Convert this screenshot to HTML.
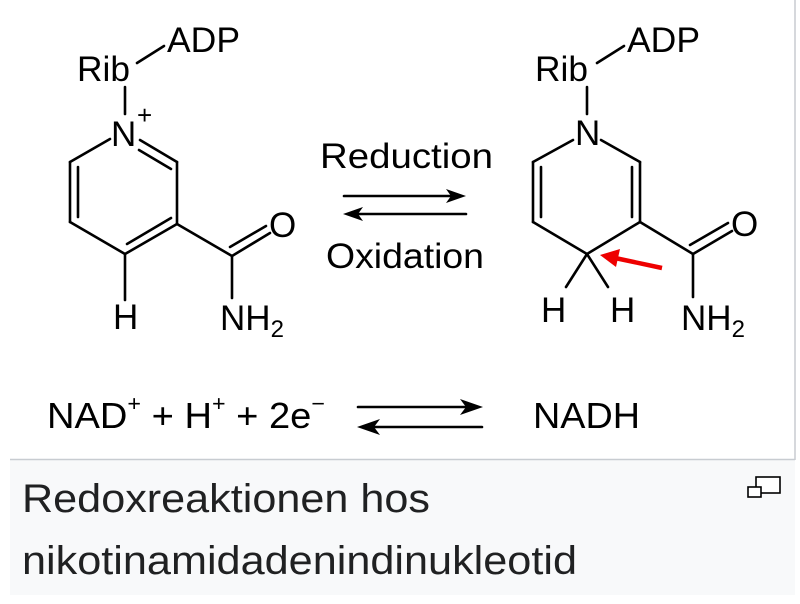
<!DOCTYPE html>
<html><head><meta charset="utf-8"><style>
html,body{margin:0;padding:0;background:#fff;width:800px;height:604px;overflow:hidden}
svg{display:block}
text{font-family:"Liberation Sans",sans-serif;fill:#000}
</style></head><body>
<svg width="800" height="604" viewBox="0 0 800 604" xmlns="http://www.w3.org/2000/svg">
<rect x="0" y="0" width="800" height="604" fill="#fff"/>
<rect x="10" y="459" width="785" height="136" fill="#f8f9fa"/>
<line x1="10" y1="459.5" x2="795" y2="459.5" stroke="#c8ccd1" stroke-width="1.5"/>
<line x1="795" y1="0" x2="795" y2="460" stroke="#c8ccd1" stroke-width="1.5"/>
<g stroke="#000" stroke-width="2.6" fill="none" stroke-linecap="round">
<line x1="137" y1="63" x2="164" y2="46"/>
<line x1="125" y1="87" x2="125" y2="114"/>
<line x1="110" y1="139" x2="70" y2="162"/>
<line x1="70" y1="162" x2="70" y2="222"/>
<line x1="78" y1="167" x2="78" y2="217"/>
<line x1="70" y1="222" x2="125" y2="254"/>
<line x1="125" y1="254" x2="177" y2="224"/>
<line x1="127" y1="244" x2="171" y2="218"/>
<line x1="177" y1="224" x2="177" y2="162"/>
<line x1="177" y1="162" x2="140" y2="140"/>
<line x1="171" y1="169" x2="139" y2="150"/>
<line x1="125" y1="254" x2="125" y2="300"/>
<line x1="177" y1="224" x2="232" y2="256"/>
<line x1="232" y1="256" x2="270" y2="233"/>
<line x1="230" y1="247" x2="266" y2="226"/>
<line x1="232" y1="256" x2="232" y2="298"/>
<line x1="597" y1="63" x2="624" y2="46"/>
<line x1="587" y1="87" x2="587" y2="114"/>
<line x1="573" y1="140" x2="533" y2="162"/>
<line x1="533" y1="162" x2="533" y2="222"/>
<line x1="541" y1="167" x2="541" y2="217"/>
<line x1="533" y1="222" x2="587" y2="254"/>
<line x1="587" y1="254" x2="640" y2="222"/>
<line x1="640" y1="222" x2="640" y2="162"/>
<line x1="632" y1="217" x2="632" y2="167"/>
<line x1="640" y1="162" x2="601" y2="140"/>
<line x1="587" y1="254" x2="566" y2="287"/>
<line x1="587" y1="254" x2="608" y2="287"/>
<line x1="640" y1="222" x2="693" y2="254"/>
<line x1="693" y1="254" x2="732" y2="231"/>
<line x1="690" y1="245" x2="728" y2="223"/>
<line x1="693" y1="254" x2="693" y2="297"/>
<line x1="344" y1="196" x2="455" y2="196"/>
<line x1="352" y1="214" x2="466" y2="214"/>
<line x1="358" y1="407" x2="472" y2="407"/>
<line x1="368" y1="427" x2="482" y2="427"/>
</g>
<g fill="#000">
<polygon points="466,196 446,189 451,196 446,203"/>
<polygon points="343,214 363,207 358,214 363,221"/>
<polygon points="483,407 460,399 466,407 460,415"/>
<polygon points="357,427 380,419 374,427 380,435"/>
</g>
<line x1="662" y1="268" x2="615" y2="258" stroke="#e00" stroke-width="4.5"/>
<polygon points="600,255 620,249 616,267" fill="#e00"/>
<g font-size="35">
<text x="77" y="81" textLength="53" lengthAdjust="spacingAndGlyphs">Rib</text>
<text x="167" y="52" textLength="73" lengthAdjust="spacingAndGlyphs">ADP</text>
<text x="111" y="146">N</text>
<text x="137" y="124" font-size="26">+</text>
<text x="113" y="329">H</text>
<text x="269" y="237">O</text>
<text x="220" y="330">NH<tspan font-size="24" dy="7">2</tspan></text>
<text x="535" y="81" textLength="53" lengthAdjust="spacingAndGlyphs">Rib</text>
<text x="627" y="52" textLength="73" lengthAdjust="spacingAndGlyphs">ADP</text>
<text x="575" y="145">N</text>
<text x="541" y="322">H</text>
<text x="610" y="322">H</text>
<text x="731" y="236">O</text>
<text x="681" y="330">NH<tspan font-size="24" dy="7">2</tspan></text>
<text x="320" y="168" textLength="173" lengthAdjust="spacingAndGlyphs">Reduction</text>
<text x="326" y="268" textLength="158" lengthAdjust="spacingAndGlyphs">Oxidation</text>
</g>
<g font-size="36">
<text x="47" y="428" textLength="278" lengthAdjust="spacingAndGlyphs">NAD<tspan font-size="22" dy="-17">+</tspan><tspan dy="17"> + H</tspan><tspan font-size="22" dy="-17">+</tspan><tspan dy="17"> + 2e</tspan><tspan font-size="22" dy="-17">−</tspan></text>
<text x="533" y="428" textLength="107" lengthAdjust="spacingAndGlyphs">NADH</text>
</g>
<g font-size="40">
<text x="22" y="512" textLength="408" lengthAdjust="spacingAndGlyphs" style="fill:#202122">Redoxreaktionen hos</text>
<text x="22" y="574" textLength="555" lengthAdjust="spacingAndGlyphs" style="fill:#202122">nikotinamidadenindinukleotid</text>
</g>
<g stroke="#000" stroke-width="1.6" fill="#fff">
<rect x="756" y="477" width="24" height="16"/>
<rect x="748" y="487" width="13" height="10"/>
</g>
</svg>
</body></html>
